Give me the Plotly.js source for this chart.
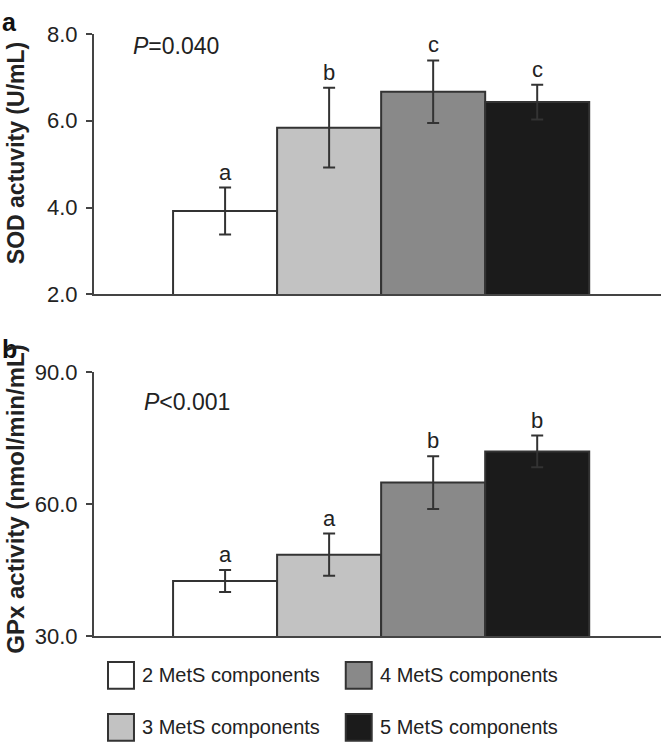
<!DOCTYPE html>
<html>
<head>
<meta charset="utf-8">
<script src="https://cdn.plot.ly/plotly-3.0.1.min.js"></script>
<style>html,body{margin:0;padding:0;background:#fff;}</style>
</head>
<body>
<div id="chart" style="width:667px;height:742px;"></div>
<script>
// ---- data ----
const categories = ['2 MetS components', '3 MetS components', '4 MetS components', '5 MetS components'];
const barColors = ['#ffffff', '#c2c2c2', '#898989', '#1b1b1b'];

const sodMean = [3.92, 5.84, 6.67, 6.43];
const sodErr = [0.54, 0.92, 0.72, 0.40];
const sodLetters = ['a', 'b', 'c', 'c'];

const gpxMean = [42.5, 48.5, 64.9, 72.0];
const gpxErr = [2.5, 4.8, 6.0, 3.6];
const gpxLetters = ['a', 'a', 'b', 'b'];

const sodTicks = [2, 4, 6, 8];
const gpxTicks = [30, 60, 90];

// ---- style ----
const FONT = 'Liberation Sans, Arial, Helvetica, sans-serif';
const INK = '#222222';
const LINE = '#444444';

function barTrace(vals, errs, xa, ya) {
  return {
    type: 'bar', x: categories, y: vals, xaxis: xa, yaxis: ya,
    width: 1,
    marker: { color: barColors, line: { color: '#333333', width: 2 } },
    error_y: { type: 'data', array: errs, visible: true, color: '#333333', thickness: 2, width: 6 },
    showlegend: false, hoverinfo: 'skip'
  };
}

const data = [
  barTrace(sodMean, sodErr, 'x', 'y'),
  barTrace(gpxMean, gpxErr, 'x2', 'y2')
];

const annotations = [];
function letters(vals, errs, labs, xa, ya) {
  labs.forEach((t, i) => {
    annotations.push({
      xref: xa, yref: ya, x: categories[i], y: vals[i] + errs[i],
      text: t, showarrow: false, yanchor: 'bottom', xanchor: 'center', yshift: 1,
      font: { family: FONT, size: 22, color: INK }
    });
  });
}
letters(sodMean, sodErr, sodLetters, 'x', 'y');
letters(gpxMean, gpxErr, gpxLetters, 'x2', 'y2');

// P values
annotations.push({ xref: 'x domain', yref: 'paper', x: 0.066, y: 0.980, xanchor: 'left', yanchor: 'middle',
  text: '<i>P</i>=0.040', showarrow: false, font: { family: FONT, size: 23, color: INK } });
annotations.push({ xref: 'x2 domain', yref: 'paper', x: 0.085, y: 0.389, xanchor: 'left', yanchor: 'middle',
  text: '<i>P</i>&lt;0.001', showarrow: false, font: { family: FONT, size: 23, color: INK } });

// panel labels
annotations.push({ xref: 'paper', yref: 'paper', x: -0.165, y: 1.047, xanchor: 'left', yanchor: 'top',
  text: '<b>a</b>', showarrow: false, font: { family: FONT, size: 25, color: '#111' } });
annotations.push({ xref: 'paper', yref: 'paper', x: -0.165, y: 0.503, xanchor: 'left', yanchor: 'top',
  text: '<b>b</b>', showarrow: false, font: { family: FONT, size: 25, color: '#111' } });

// y titles
annotations.push({ xref: 'paper', yref: 'paper', x: -0.1376, y: 0.802, xanchor: 'center', yanchor: 'middle',
  textangle: -90, text: '<b>SOD actuvity (U/mL)</b>', showarrow: false, font: { family: FONT, size: 23, color: INK } });
annotations.push({ xref: 'paper', yref: 'paper', x: -0.1376, y: 0.228, xanchor: 'center', yanchor: 'middle',
  textangle: -90, text: '<b>GPx activity (nmol/min/mL)</b>', showarrow: false, font: { family: FONT, size: 24, color: INK } });

// manual legend (2 columns, filled column-wise)
const shapes = [];
const legColX = [0.0247, 0.444];
const legRowY = [-0.0432, -0.1296];
const boxW = 0.0458, boxH = 0.0445;
categories.forEach((c, i) => {
  const col = Math.floor(i / 2), row = i % 2;
  const x0 = legColX[col], y1 = legRowY[row];
  shapes.push({ type: 'rect', xref: 'paper', yref: 'paper', x0: x0, x1: x0 + boxW, y0: y1 - boxH, y1: y1,
    fillcolor: barColors[i], line: { color: '#333333', width: 2 } });
  annotations.push({ xref: 'paper', yref: 'paper', x: x0 + boxW + 0.011, y: y1 - boxH / 2,
    xanchor: 'left', yanchor: 'middle', text: c, showarrow: false,
    font: { family: FONT, size: 20, color: INK } });
});

const xBase = { range: [-1.26, 4.19], showticklabels: false, ticks: '', showgrid: false, zeroline: false,
  showline: true, linecolor: LINE, linewidth: 2, fixedrange: true };
const yBase = { ticks: 'outside', ticklen: 6, tickwidth: 2, tickcolor: LINE, showline: true, linecolor: LINE,
  linewidth: 2, showgrid: false, zeroline: false, tickformat: '.1f', ticklabelstandoff: 4,
  tickfont: { family: FONT, size: 22, color: INK }, fixedrange: true };

const layout = {
  width: 667, height: 742,
  margin: { l: 94, r: 6, t: 34, b: 106 },
  paper_bgcolor: '#ffffff', plot_bgcolor: '#ffffff',
  bargap: 0, showlegend: false,
  font: { family: FONT, color: INK },
  xaxis: Object.assign({}, xBase, { domain: [0, 1], anchor: 'y' }),
  xaxis2: Object.assign({}, xBase, { domain: [0, 1], anchor: 'y2' }),
  yaxis: Object.assign({}, yBase, { domain: [0.5676, 1], range: [2, 8], tickvals: sodTicks, anchor: 'x' }),
  yaxis2: Object.assign({}, yBase, { domain: [0, 0.438], range: [30, 90], tickvals: gpxTicks, anchor: 'x2' }),
  annotations: annotations,
  shapes: shapes
};

Plotly.newPlot('chart', data, layout, { displayModeBar: false, staticPlot: true });
</script>
</body>
</html>
